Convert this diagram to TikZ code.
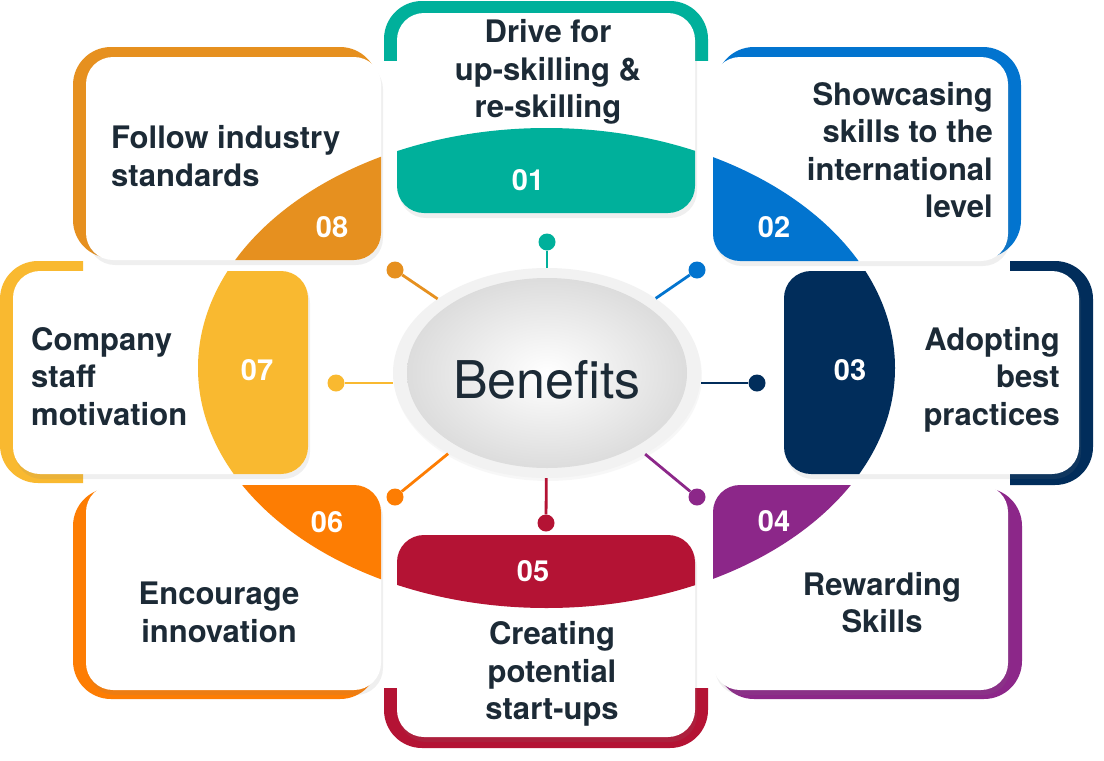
\documentclass[tikz,border=0pt]{standalone}
\usepackage{fontspec}
\setmainfont{TeX Gyre Heros}
\usetikzlibrary{shapes.geometric,shadows}
\definecolor{cA}{HTML}{00B09B}
\definecolor{cB}{HTML}{0274CF}
\definecolor{cC}{HTML}{012D5B}
\definecolor{cD}{HTML}{8C2789}
\definecolor{cE}{HTML}{B41334}
\definecolor{cF}{HTML}{FD7D03}
\definecolor{cG}{HTML}{F9B930}
\definecolor{cH}{HTML}{E6901F}
\definecolor{txt}{HTML}{1C2A36}
\definecolor{ringgray}{HTML}{F2F2F2}
\newcommand{\mycard}[5]{%
  \path[cardbox] (#2,#3) rectangle (#4,#5);
  \begin{scope}
    \clip[rounded corners=27pt] (#2,#3) rectangle (#4,#5);
    \fill[#1] (546.5,368) ellipse [x radius=348.5pt, y radius=240pt];
  \end{scope}}
\begin{document}
\begin{tikzpicture}[x=1pt,y=-1pt,
  cardbox/.style={fill=white, rounded corners=27pt, drop shadow={shadow xshift=2pt,shadow yshift=-5pt,opacity=0.12}},
  backbox/.style={fill=#1, rounded corners=38pt},
  lbl/.style={font=\fontsize{31}{37.5}\selectfont\bfseries, text=txt, inner sep=0pt},
  num/.style={font=\fontsize{29}{30}\selectfont\bfseries, text=white, inner sep=0pt},
  enddot/.style={circle, fill=#1, minimum size=17pt, inner sep=0pt},
  conn/.style={draw=#1, line width=2.8pt},
]
\useasboundingbox (0,0) rectangle (1104,761);
\fill[white] (0,0) rectangle (1104,761);

% backings
\begin{scope}\clip (0,0) rectangle (1104,60); \fill[backbox=cA] (384,1) rectangle (708,240); \end{scope}
\fill[backbox=cB] (716,47) rectangle (1021,258);
\begin{scope}\clip (1010,0) rectangle (1104,761); \fill[backbox=cC] (770,261) rectangle (1093,485); \end{scope}
\fill[backbox=cD] (716,488) rectangle (1022,699);
\begin{scope}\clip (0,688) rectangle (1104,761); \fill[backbox=cE] (384,510) rectangle (708,748); \end{scope}
\fill[backbox=cF] (73,488) rectangle (378,699);
\begin{scope}\clip (0,0) rectangle (83,761); \fill[backbox=cG] (0,261) rectangle (322,483); \end{scope}
\fill[backbox=cH] (73,47) rectangle (378,258);

% cards
\mycard{cA}{397}{13}{695}{213}
\mycard{cB}{713}{57}{1008}{261}
\mycard{cC}{784}{271}{1079}{474}
\mycard{cD}{713}{485}{1008}{690}
\mycard{cE}{397}{535}{695}{737}
\mycard{cF}{86}{485}{381}{690}
\mycard{cG}{13}{271}{308}{474}
\mycard{cH}{86}{57}{381}{260}

% centre
\node[ellipse, fill=ringgray, minimum width=308pt, minimum height=210pt, inner sep=0pt,
  drop shadow={shadow xshift=1pt,shadow yshift=-3pt,opacity=0.06},
  path picture={\shade[inner color=white, outer color=black!15] (path picture bounding box.center) ellipse [x radius=140pt, y radius=95pt];}] (ben) at (547,373) {};
\node[font=\fontsize{52}{52}\selectfont, text=txt, inner sep=0pt] (btxt) at (547,380) {Benefits};

\node[enddot=cA] (d1) at (547,242) {};
\node[enddot=cB] (d2) at (697,270) {};
\node[enddot=cC] (d3) at (757,383) {};
\node[enddot=cD] (d4) at (697,497) {};
\node[enddot=cE] (d5) at (546,523) {};
\node[enddot=cF] (d6) at (395,497) {};
\node[enddot=cG] (d7) at (336,383) {};
\node[enddot=cH] (d8) at (395,270) {};
\draw[conn=cA] (ben) -- (d1);
\draw[conn=cB] (ben) -- (d2);
\draw[conn=cC] (d3 -| ben.east) -- (d3);
\draw[conn=cD] (ben) -- (d4);
\draw[conn=cE] (ben) -- (d5);
\draw[conn=cF] (ben) -- (d6);
\draw[conn=cG] (d7 -| ben.west) -- (d7);
\draw[conn=cH] (ben) -- (d8);

% texts
\node[lbl, align=center] (t1) at (548,72) {Drive for\\up-skilling \&\\re-skilling};
\node[lbl, align=right, anchor=east] (t2) at (993,150) {Showcasing\\skills to the\\international\\level};
\node[lbl, align=right, anchor=east] (t3) at (1060,379.5) {Adopting\\best\\practices};
\node[lbl, align=center] (t4) at (882,602.5) {Rewarding\\Skills};
\node[lbl, align=center] (t5) at (552,674) {Creating\\potential\\start-ups};
\node[lbl, align=center] (t6) at (219,612.5) {Encourage\\innovation};
\node[lbl, align=left, anchor=west] (t7) at (31,376.5) {Company\\staff\\motivation};
\node[lbl, align=left, anchor=west] (t8) at (111,156) {Follow industry\\standards};

\node[num] (n1) at (528,180) {01};
\node[num] (n2) at (774,227) {02};
\node[num] (n3) at (850,370) {03};
\node[num] (n4) at (774,521) {04};
\node[num] (n5) at (533,571) {05};
\node[num] (n6) at (327,522) {06};
\node[num] (n7) at (257,370) {07};
\node[num] (n8) at (332,227) {08};
\end{tikzpicture}
\end{document}
